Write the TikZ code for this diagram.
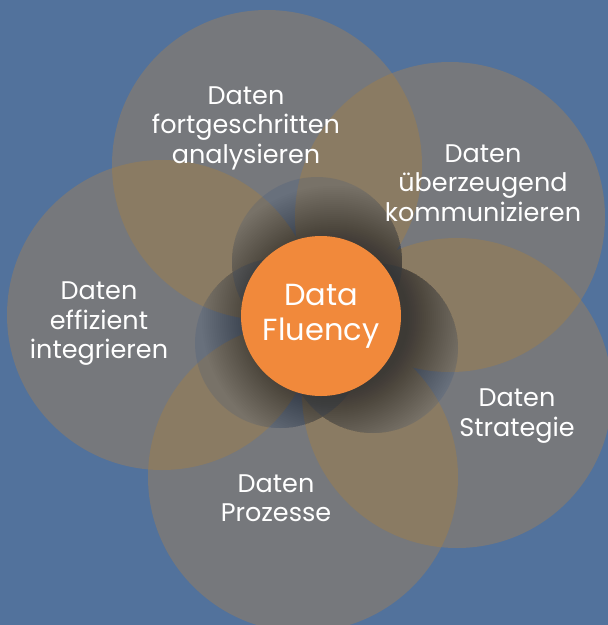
\documentclass[tikz,border=0pt]{standalone}
\usepackage{fontspec}
\setmainfont{Poppins}
\definecolor{bgblue}{HTML}{52729C}
\definecolor{petal}{HTML}{76787C}
\definecolor{lens}{HTML}{8A7B63}
\definecolor{innerblue}{HTML}{34507E}
\definecolor{core}{HTML}{F1893B}
\tikzset{
  lbl/.style={text=white, align=center, font=\fontsize{25.5}{29.5}\selectfont, inner sep=0pt},
  corelbl/.style={text=white, align=center, font=\fontsize{30.5}{35}\selectfont, inner sep=0pt},
}
\begin{document}
\begin{tikzpicture}[x=1pt,y=-1pt]
\fill[bgblue] (0,0) rectangle (608,625);
\useasboundingbox (0,0) rectangle (608,625);
% petal centres
\coordinate (A) at (267,165);
\coordinate (B) at (450,217);
\coordinate (C) at (457,393);
\coordinate (D) at (303,477);
\coordinate (E) at (162,315);
\def\R{155}
\foreach \p in {A,B,C,D,E} \fill[petal] (\p) circle (\R);
% lens overlaps
\foreach \p/\q in {A/B,B/C,C/D,D/E,E/A,A/C,B/D,C/E,D/A,E/B} {
  \begin{scope}
    \clip (\p) circle (\R);
    \fill[lens] (\q) circle (\R);
  \end{scope}
}
% inner circles
\coordinate (I1) at (317,262);
\coordinate (I2) at (280,343);
\coordinate (I3) at (373,348);
\def\r{85}
\foreach \p in {I1,I2,I3} \fill[innerblue,opacity=0.2] (\p) circle (\r);
\begin{scope}
  \clip (I1) circle (\r) (I2) circle (\r) (I3) circle (\r);
  \coordinate (S) at (334,318);
  \foreach \rr in {132,130,...,74} \fill[black,opacity=0.015] (S) circle (\rr);
\end{scope}
% core
\node[circle, fill=core, minimum size=160pt, inner sep=0pt] (core) at (321,316) {};
\node[corelbl] (coretext) at (321,316) {Data\\Fluency};
% labels
\node[lbl] (l1) at (246,128) {Daten\\fortgeschritten\\analysieren};
\node[lbl] (l2) at (483,183) {Daten\\überzeugend\\kommunizieren};
\node[lbl] (l3) at (517,416) {Daten\\Strategie};
\node[lbl] (l4) at (276,498) {Daten\\Prozesse};
\node[lbl] (l5) at (99,324) {Daten\\effizient\\integrieren};
\end{tikzpicture}
\end{document}
